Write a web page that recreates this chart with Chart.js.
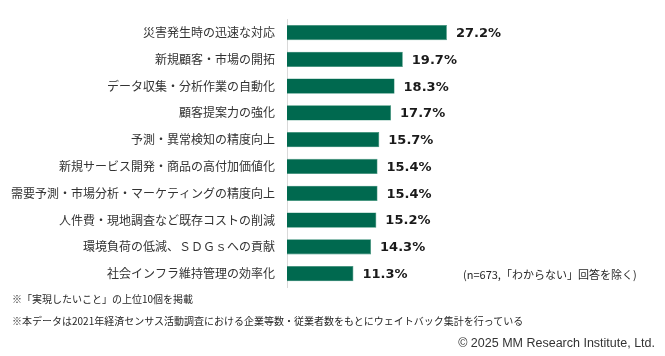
<!DOCTYPE html>
<html><head><meta charset="utf-8">
<script src="https://cdn.jsdelivr.net/npm/chart.js@4/dist/chart.umd.min.js"></script>
<style>
html,body{margin:0;padding:0;background:#fff;}
#wrap{position:relative;width:665px;height:356px;overflow:hidden;}
canvas{position:absolute;left:0;top:0;}
.t{position:absolute;white-space:nowrap;color:#262626;font-family:"Noto Sans CJK JP",sans-serif;}
</style></head>
<body><div id="wrap">
<canvas id="c" width="665" height="356"></canvas>
<div class="t" id="n" style="left:463px;top:266px;font-size:11px;">(n=673,「わからない」回答を除く)</div>
<div class="t" style="left:12px;top:291px;font-size:10px;">※「実現したいこと」の上位10個を掲載</div>
<div class="t" style="left:12px;top:313px;font-size:10px;">※本データは2021年経済センサス活動調査における企業等数・従業者数をもとにウェイトバック集計を行っている</div>
<div class="t" style="right:10px;top:336px;font-size:12.5px;font-family:'Liberation Sans',Arial,sans-serif;color:#333;">© 2025 MM Research Institute, Ltd.</div>
</div>
<script>
const categories = [
  "災害発生時の迅速な対応",
  "新規顧客・市場の開拓",
  "データ収集・分析作業の自動化",
  "顧客提案力の強化",
  "予測・異常検知の精度向上",
  "新規サービス開発・商品の高付加価値化",
  "需要予測・市場分析・マーケティングの精度向上",
  "人件費・現地調査など既存コストの削減",
  "環境負荷の低減、ＳＤＧｓへの貢献",
  "社会インフラ維持管理の効率化"
];
const values = [27.2, 19.7, 18.3, 17.7, 15.7, 15.4, 15.4, 15.2, 14.3, 11.3];

const valueLabels = {
  id: 'valueLabels',
  afterDatasetsDraw(chart) {
    const ctx = chart.ctx;
    const meta = chart.getDatasetMeta(0);
    ctx.save();
    ctx.font = 'bold 13px "DejaVu Sans", sans-serif';
    ctx.fillStyle = '#1a1a1a';
    ctx.textAlign = 'left';
    ctx.textBaseline = 'middle';
    meta.data.forEach((bar, i) => {
      ctx.fillText(values[i].toFixed(1) + '%', bar.x + 9, bar.y + 1);
    });
    ctx.restore();
  }
};

new Chart(document.getElementById('c'), {
  type: 'bar',
  data: {
    labels: categories,
    datasets: [{
      data: values,
      backgroundColor: '#00694f',
      borderColor: '#2f8a6f',
      borderWidth: 0.6,
      barPercentage: 0.57,
      categoryPercentage: 1.0
    }]
  },
  options: {
    indexAxis: 'y',
    responsive: false,
    animation: false,
    devicePixelRatio: 1,
    layout: { padding: { left: 0, top: 18, bottom: 69, right: 10 } },
    plugins: { legend: { display: false }, tooltip: { enabled: false } },
    scales: {
      x: { display: false, min: 0, max: 62.6 },
      y: {
        grid: { display: false, drawTicks: false },
        border: { display: true, color: '#d9d9d9', width: 1 },
        ticks: {
          padding: 12,
          color: '#333333',
          font: { family: '"Noto Sans CJK JP", sans-serif', size: 12 }
        },
        afterFit(scale) { scale.width = 287; }
      }
    }
  },
  plugins: [valueLabels]
});
</script>
</body></html>
